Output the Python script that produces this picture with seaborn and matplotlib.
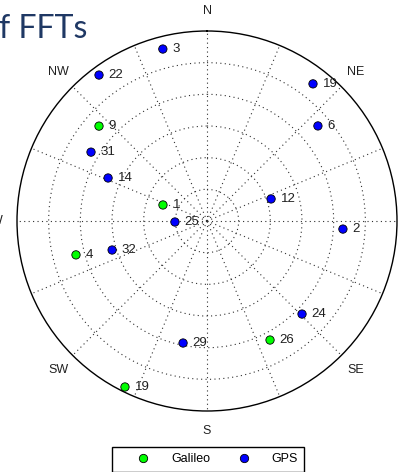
import numpy as np
import pandas as pd

import matplotlib as mpl
mpl.use('Agg')
import matplotlib.pyplot as plt
import seaborn as sns

plt.rcParams['font.family'] = ['Liberation Sans', 'DejaVu Sans']

# satellites in view: PRN, constellation, azimuth (deg), elevation (deg)
prn = [3, 22, 19, 6, 9, 31, 14, 1, 25, 12, 2, 4, 32, 24, 26, 29, 19]
system = ['GPS', 'GPS', 'GPS', 'GPS', 'Galileo', 'GPS', 'GPS', 'Galileo',
          'GPS', 'GPS', 'GPS', 'Galileo', 'GPS', 'GPS', 'Galileo', 'GPS',
          'Galileo']
azimuth = [345.6, 323.5, 37.7, 49.4, 311.3, 300.7, 293.5, 290.0, 268.2,
           71.0, 93.4, 255.5, 253.0, 134.4, 152.1, 191.1, 206.3]
elevation = [5.9, 4.0, 7.9, 20.8, 21.9, 26.1, 38.9, 67.8, 74.8, 57.9,
             25.5, 25.9, 43.0, 27.0, 26.2, 31.1, 2.3]

# compass labels (E falls outside the cropped picture)
compass = ['N', 'NE', 'SE', 'S', 'SW', 'W', 'NW']
compass_az = [0, 45, 135, 180, 225, 270, 315]
sys_order = ['Galileo', 'GPS']
sys_colors = {'Galileo': '#00ff00', 'GPS': '#0000ff'}

sky = pd.DataFrame({'prn': prn, 'system': system,
                    'theta': np.radians(azimuth),
                    'r': 90. - np.array(elevation)})

fig = plt.figure(figsize=(4.04, 4.72), dpi=100)
ax = fig.add_axes([17 / 404, 61 / 472, 380 / 404, 380 / 472],
                  projection='polar')
ax.set_theta_zero_location('N')
ax.set_theta_direction(-1)

# the sky grid: elevation rings every 15 deg, azimuth spokes every 22.5 deg
ax.set_rlim(0, 90)
ax.set_rgrids([15, 30, 45, 60, 75], labels=[])
ax.set_thetagrids(np.arange(0, 360, 22.5), labels=[])
ax.grid(True, color='#303030', linestyle=(0, (1, 3)), linewidth=0.8)
ax.spines['polar'].set_color('black')
ax.spines['polar'].set_linewidth(1.0)
ax.tick_params(length=0)

sns.scatterplot(data=sky, x='theta', y='r', hue='system',
                hue_order=sys_order, palette=sys_colors, s=36,
                edgecolor='black', linewidth=0.6, ax=ax, zorder=3)
ax.set_xlabel('')
ax.set_ylabel('')

for _, row in sky.iterrows():
    ax.annotate(str(row['prn']), xy=(row['theta'], row['r']),
                xytext=(7, 0), textcoords='offset points',
                ha='left', va='center', fontsize=9.5, color='#202020',
                annotation_clip=False)

for lbl, az in zip(compass, compass_az):
    ax.text(np.radians(az), 99.5, lbl, ha='center', va='center',
            fontsize=9, color='#202020', clip_on=False)

# move the legend below the sky plot
leg = ax.get_legend()
handles = leg.legend_handles
labels = [t.get_text() for t in leg.get_texts()]
leg.remove()
for h in handles:
    h.set_markeredgecolor('black')
    h.set_markeredgewidth(0.6)
    h.set_markersize(6)

fig_leg = fig.legend(handles, labels, loc='upper center',
                     bbox_to_anchor=(208 / 404, 1 - 447 / 472), ncol=2,
                     fontsize=9, frameon=True, fancybox=False,
                     framealpha=1, edgecolor='black', borderpad=0.5,
                     handlelength=4.0, handletextpad=0.2,
                     columnspacing=0.7, borderaxespad=0)
fig_leg.get_frame().set_linewidth(1.0)

fig.text(-0.003, 1 - 38 / 472, 'f FFTs', fontsize=23, color='#1f3864',
         family=['Lato', 'DejaVu Sans'], va='baseline', ha='left')

plt.savefig('out.png', dpi=100)
plt.close()
